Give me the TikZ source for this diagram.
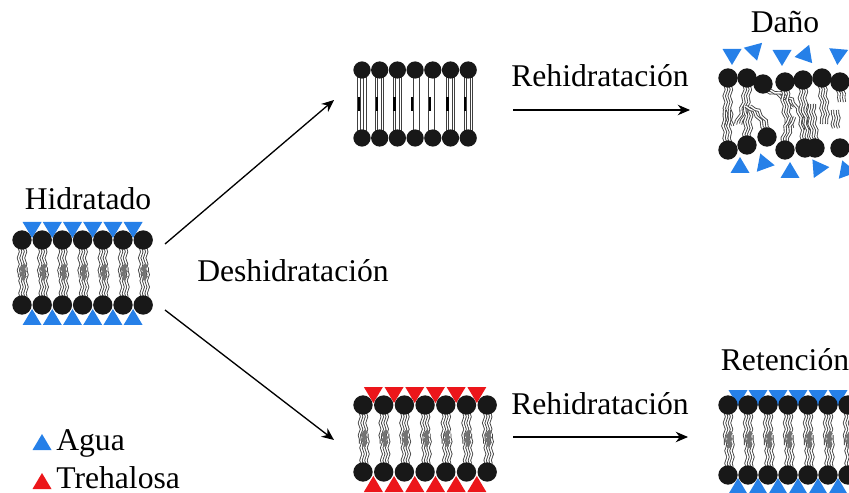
\documentclass[tikz,border=0pt]{standalone}
\usepackage{fontspec}
\setmainfont{Liberation Serif}
\usetikzlibrary{positioning,arrows.meta,decorations.pathmorphing}

\definecolor{agua}{RGB}{38,128,232}
\definecolor{treh}{RGB}{236,22,26}
\definecolor{cabeza}{RGB}{24,24,24}

\tikzset{
  head/.style={fill=cabeza},
  tail/.style={draw=black!75, double=white, double distance=0.8pt, line width=0.5pt},
  wavy/.style={tail, decorate, decoration={snake, segment length=7pt, amplitude=0.6pt}},
  knot/.style={draw=black!55, line width=2pt, decorate, decoration={snake, segment length=3pt, amplitude=0.8pt}},
  lbl/.style={font=\fontsize{18}{20}\selectfont, inner sep=0pt},
  flecha/.style={->, line width=0.75pt},
}

% triangle: x, y, angle, colour (points down at angle 0)
\newcommand{\tri}[4]{%
  \fill[#4, shift={(#1,#2)}, rotate=#3] (-9.5,-8) -- (9.5,-8) -- (0,8) -- cycle;}

% bilayer: x0, spacing, top y, bottom y, colour, top gap, bottom gap
\newcommand{\bilayer}[7]{%
  \foreach \i in {0,...,5}{
    \pgfmathsetmacro{\tx}{#1+(\i+0.5)*#2}
    \tri{\tx}{#3-#6}{0}{#5}
    \tri{\tx}{#4+#7}{180}{#5}
  }
  \foreach \i in {0,...,6}{
    \pgfmathsetmacro{\hx}{#1+\i*#2}
    \pgfmathsetmacro{\my}{(#3+#4)/2}
    \draw[wavy] (\hx-2.5,#3+8) -- (\hx-2.5,\my+5);
    \draw[wavy] (\hx+2.5,#3+8) -- (\hx+2.5,\my+5);
    \draw[wavy] (\hx-1,#4-8) -- (\hx-1,\my-5);
    \draw[wavy] (\hx+4,#4-8) -- (\hx+4,\my-5);
    \draw[knot] (\hx+1,\my-8) -- (\hx+1,\my+8);
    \fill[head] (\hx,#3) circle[radius=5.5pt];
    \fill[head] (\hx,#4) circle[radius=5.5pt];
  }
}

\begin{document}
\begin{tikzpicture}[x=0.02cm, y=-0.02cm, >={Stealth[length=7pt,width=6pt]}]
\useasboundingbox (0,0) rectangle (849,493);

% hydrated membrane
\node[lbl] (hid) at (88,199) {Hidratado};
\bilayer{22}{20.2}{240}{305}{agua}{10}{12}

% dry membrane, gel phase
\foreach \i in {0,...,6}{
  \pgfmathsetmacro{\hx}{362+\i*17.7}
  \draw[tail] (\hx-3,72) -- (\hx-3,136);
  \draw[tail] (\hx+3,72) -- (\hx+3,136);
  \draw[line width=1.3pt] (\hx-3,97) -- (\hx-3,111);
  \fill[head] (\hx,70) circle[radius=4.9pt];
  \fill[head] (\hx,138) circle[radius=4.9pt];
}

% damaged membrane
\node[lbl] (dano) at (785,22) {Daño};
\foreach \x/\y/\a in {732/57/0, 755/53/15, 782/58/0, 807/57/40, 838/57/-5}
  \tri{\x}{\y}{\a}{agua};
\foreach \x/\y/\a in {740/165/180, 763/161/200, 790/170/180, 817/166/215, 845/168/200}
  \tri{\x}{\y}{\a}{agua};
\foreach \ax/\ay/\bx/\by/\b in {728/86/730/126/-5, 747/86/738/124/10, 763/90/795/108/20,
    785/90/790/128/-5, 803/88/806/130/-5, 822/86/824/124/5, 840/90/842/102/0,
    728/142/727/110/5, 747/138/747/106/-5, 767/130/748/106/-15, 785/142/792/117/5,
    805/140/800/108/-5, 815/140/812/104/5, 836/128/835/110/0}{
  \draw[wavy] (\ax-2.5,\ay) to[bend left=\b] (\bx-2.5,\by);
  \draw[wavy] (\ax+2.5,\ay) to[bend left=\b] (\bx+2.5,\by);
}
\foreach \x/\y in {728/78, 747/78, 763/84, 785/82, 803/80, 822/78, 840/82,
    728/150, 747/145, 767/137, 785/150, 805/148, 815/148, 840/148}
  \fill[head] (\x,\y) circle[radius=5.5pt];

% membrane with trehalose
\bilayer{363}{20.7}{405}{472}{treh}{10}{12}

% retained membrane
\node[lbl] (ret) at (785,360) {Retención};
\bilayer{728}{20}{405}{475}{agua}{7}{11}

% arrows
\node[lbl] (desh) at (293,271) {Deshidratación};
\node[lbl] (reh1) at (600,76) {Rehidratación};
\node[lbl] (reh2) at (600,404) {Rehidratación};
\coordinate (h1) at (165,244);
\coordinate (h2) at (165,310);
\coordinate (s1) at (334,100);
\coordinate (t1) at (334,440);
\coordinate (s2) at (513,110);
\coordinate (d1) at (690,110);
\coordinate (t2) at (513,437);
\coordinate (r1) at (688,437);
\draw[flecha] (h1) -- (s1);
\draw[flecha] (h2) -- (t1);
\draw[flecha] (s2) -- (d1);
\draw[flecha] (t2) -- (r1);

% legend
\tri{42}{442}{180}{agua}
\tri{42}{481}{180}{treh}
\node[lbl, anchor=base west] (agua) at (56,450) {Agua};
\node[lbl, anchor=base west] (trehalosa) at (56,488) {Trehalosa};
\end{tikzpicture}
\end{document}
